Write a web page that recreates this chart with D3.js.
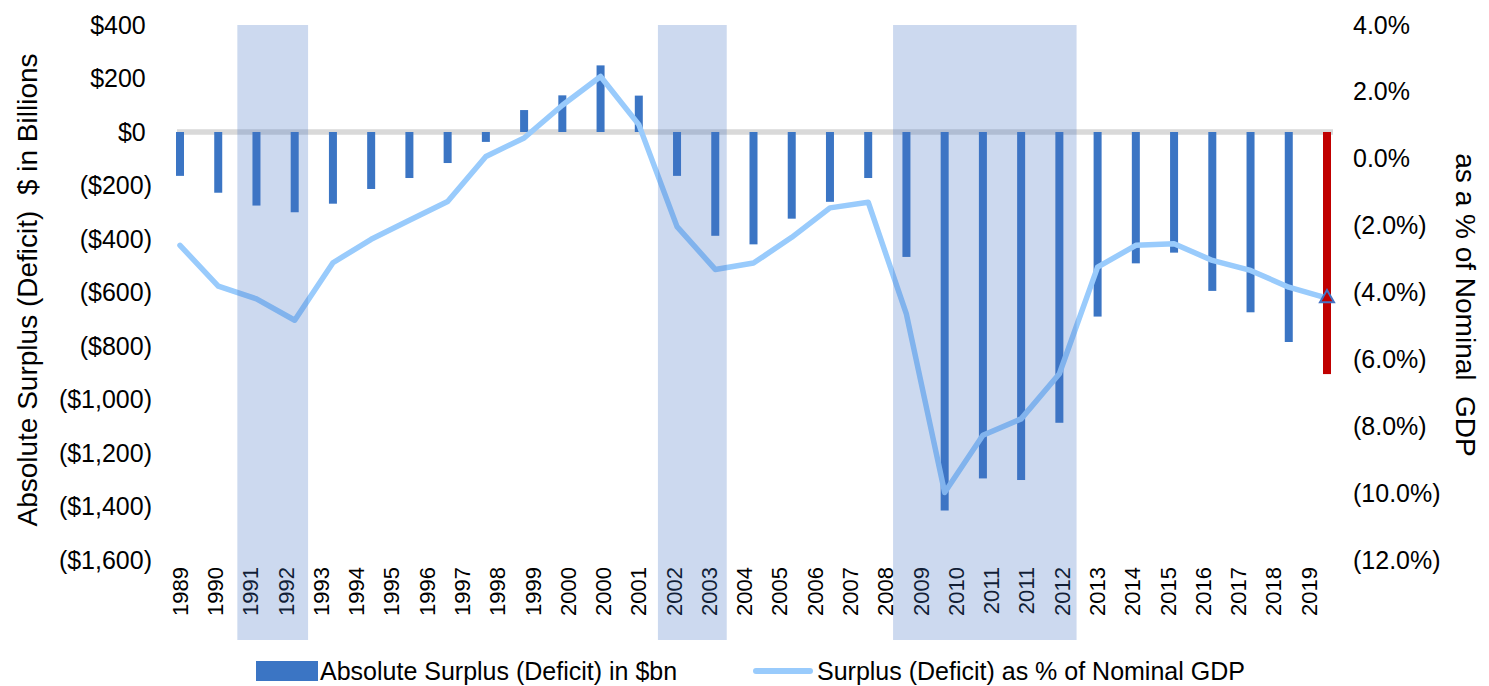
<!DOCTYPE html>
<html lang="en">
<head>
<meta charset="utf-8">
<title>Surplus (Deficit)</title>
<style>
  body { margin: 0; background: #fff; }
  svg text { font-family: "Liberation Sans", Arial, sans-serif; fill: #000; }
</style>
</head>
<body>
<svg id="chart" width="1489" height="686"></svg>
<script src="https://cdn.jsdelivr.net/npm/d3@7"></script>
<script>
// category labels on the axis (as printed, duplicates included)
var axisLabels = ["1989","1990","1991","1992","1993","1994","1995","1996","1997","1998","1999",
  "2000","2000","2001","2002","2003","2004","2005","2006","2007","2008","2009","2010",
  "2011","2011","2012","2013","2014","2015","2016","2017","2018","2019"];

// absolute surplus (deficit), $bn - last one is the projection (red)
var deficitBn = [-164,-227,-275,-300,-268,-213,-172,-116,-37,82,137,249,136,-164,-388,-420,
  -324,-261,-172,-467,-1415,-1295,-1301,-1087,-690,-491,-451,-594,-674,-785,-905];

// surplus (deficit) as % of nominal GDP
var pctGdp = [-2.59,-3.81,-4.19,-4.83,-3.11,-2.41,-1.84,-1.28,0.07,0.62,1.6,2.46,1.02,-2.03,
  -3.31,-3.12,-2.35,-1.47,-1.30,-4.65,-9.98,-8.27,-7.78,-6.43,-3.24,-2.59,-2.54,-3.04,-3.34,-3.84,-4.17];

// recession shading, in bar-index units
var recessionStart = [1.5, 12.5, 18.65];
var recessionEnd = [3.35, 14.3, 23.45];

var leftTicks = d3.range(-1600, 401, 200);
var rightTicks = d3.range(-12, 4.01, 2);

var svg = d3.select("#chart");

var plotTop = 25, plotBottom = 560;
var n = deficitBn.length;

var x = d3.scaleLinear().domain([0, n - 1]).range([180, 1327]);
var xLab = d3.scalePoint().domain(d3.range(axisLabels.length)).range([180, 1309]);
var yL = d3.scaleLinear().domain([-1600, 400]).range([plotBottom, plotTop]);
var yR = d3.scaleLinear().domain([-12, 4]).range([plotBottom, plotTop]);

// zero line
svg.append("line")
    .attr("x1", 177).attr("x2", 1333)
    .attr("y1", yL(0)).attr("y2", yL(0))
    .attr("stroke", "#d9d9d9").attr("stroke-width", 5.5);

// bars
svg.append("g").selectAll("rect")
    .data(deficitBn)
    .enter().append("rect")
    .attr("x", function(d, i) { return x(i) - 4; })
    .attr("width", 8)
    .attr("y", function(d) { return yL(Math.max(0, d)); })
    .attr("height", function(d) { return Math.abs(yL(d) - yL(0)); })
    .attr("fill", function(d, i) { return i == n - 1 ? "#c00000" : "#3b75c4"; });

// % of GDP line
var line = d3.line()
    .x(function(d, i) { return x(i); })
    .y(function(d) { return yR(d); });

svg.append("path")
    .datum(pctGdp)
    .attr("d", line)
    .attr("fill", "none")
    .attr("stroke", "#99cbfc")
    .attr("stroke-width", 5.5)
    .attr("stroke-linejoin", "round")
    .attr("stroke-linecap", "round");

// marker on the last point
svg.append("path")
    .attr("d", d3.symbol().type(d3.symbolTriangle).size(85))
    .attr("transform", "translate(" + x(n - 1) + "," + yR(pctGdp[n - 1]) + ")")
    .attr("fill", "#c00000")
    .attr("stroke", "#4472c4")
    .attr("stroke-width", 2);

// left axis
var fmtL = function(d) {
  var s = "$" + d3.format(",")(Math.abs(d));
  return d < 0 ? "(" + s + ")" : s;
};
var gL = svg.append("g")
    .attr("transform", "translate(152,0)")
    .call(d3.axisLeft(yL).tickValues(leftTicks).tickFormat(fmtL).tickSize(0).tickPadding(0));
gL.select(".domain").remove();
gL.selectAll("text")
    .style("font-size", "25px")
    .attr("dx", function(d) { return d >= 0 ? "-0.25em" : 0; });

// right axis
var fmtR = function(d) {
  var s = Math.abs(d).toFixed(1) + "%";
  return d < 0 ? "(" + s + ")" : s;
};
var gR = svg.append("g")
    .attr("transform", "translate(1353,0)")
    .call(d3.axisRight(yR).tickValues(rightTicks).tickFormat(fmtR).tickSize(0).tickPadding(0));
gR.select(".domain").remove();
gR.selectAll("text").style("font-size", "25px");

// category labels
svg.append("g").selectAll("text")
    .data(axisLabels)
    .enter().append("text")
    .attr("transform", function(d, i) { return "translate(" + xLab(i) + ",567) rotate(-90)"; })
    .attr("text-anchor", "end")
    .attr("dy", "0.35em")
    .style("font-size", "22px")
    .text(function(d) { return d; });

// axis titles
svg.append("text")
    .attr("transform", "translate(27,290) rotate(-90)")
    .attr("text-anchor", "middle")
    .attr("dy", "0.35em")
    .style("font-size", "28px")
    .style("white-space", "pre")
    .text("Absolute Surplus (Deficit)  $ in Billions");

svg.append("text")
    .attr("transform", "translate(1466,305) rotate(90)")
    .attr("text-anchor", "middle")
    .attr("dy", "0.35em")
    .style("font-size", "28px")
    .style("white-space", "pre")
    .text("as a % of Nominal  GDP");

// recession shading (drawn over everything, semi transparent)
svg.append("g").selectAll("rect")
    .data(recessionStart)
    .enter().append("rect")
    .attr("x", function(d) { return x(d); })
    .attr("width", function(d, i) { return x(recessionEnd[i]) - x(d); })
    .attr("y", plotTop)
    .attr("height", 640 - plotTop)
    .attr("fill", "#4472c4")
    .attr("fill-opacity", 0.27);

// legend
var lg = svg.append("g").style("font-size", "25px");
lg.append("rect").attr("x", 256).attr("y", 661).attr("width", 62).attr("height", 20).attr("fill", "#3b75c4");
lg.append("text").attr("x", 320).attr("y", 680).text("Absolute Surplus (Deficit) in $bn");
lg.append("line").attr("x1", 756).attr("x2", 810).attr("y1", 671).attr("y2", 671)
    .attr("stroke", "#99cbfc").attr("stroke-width", 6).attr("stroke-linecap", "round");
lg.append("text").attr("x", 817).attr("y", 680).text("Surplus (Deficit) as % of Nominal GDP");
</script>
</body>
</html>
